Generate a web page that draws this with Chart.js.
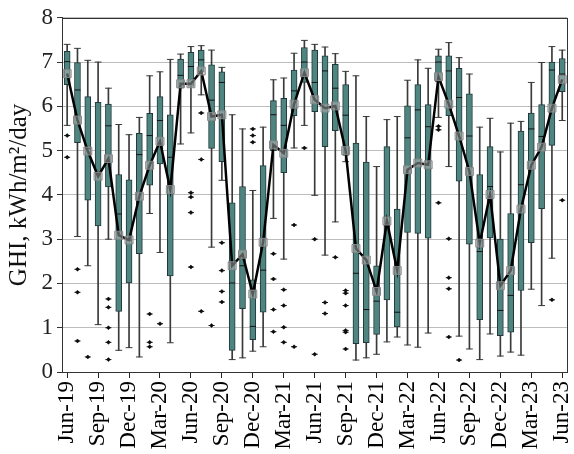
<!DOCTYPE html>
<html>
<head>
<meta charset="utf-8">
<script src="https://cdn.jsdelivr.net/npm/chart.js@4.4.1/dist/chart.umd.min.js"></script>
<style>
html,body{margin:0;padding:0;background:#fff;}
canvas{display:block;}
</style>
</head>
<body>
<canvas id="c" width="574" height="454"></canvas>
<script>
const months = ['Jun-19','Jul-19','Aug-19','Sep-19','Oct-19','Nov-19','Dec-19','Jan-20','Feb-20','Mar-20','Apr-20','May-20',
  'Jun-20','Jul-20','Aug-20','Sep-20','Oct-20','Nov-20','Dec-20','Jan-21','Feb-21','Mar-21','Apr-21','May-21',
  'Jun-21','Jul-21','Aug-21','Sep-21','Oct-21','Nov-21','Dec-21','Jan-22','Feb-22','Mar-22','Apr-22','May-22',
  'Jun-22','Jul-22','Aug-22','Sep-22','Oct-22','Nov-22','Dec-22','Jan-23','Feb-23','Mar-23','Apr-23','May-23','Jun-23'];

const whiskerLow  = [5.57,3.06,2.40,1.07,3.00,0.49,0.55,0.34,3.58,2.70,0.66,5.15,
  5.40,6.26,2.82,4.33,0.28,0.32,0.47,0.57,3.47,2.55,5.06,5.57,
  3.99,2.64,3.39,4.75,0.27,0.32,0.40,0.68,0.79,0.61,0.56,0.88,
  5.75,4.64,0.81,0.52,0.28,0.86,0.36,0.45,0.38,1.87,1.50,2.57,5.68];
const q1 = [6.49,5.18,3.88,3.30,4.18,1.37,2.01,2.67,4.22,4.70,2.17,6.41,
  6.45,6.77,5.05,4.75,0.49,1.43,0.73,1.35,5.00,4.50,5.79,6.54,
  5.88,5.09,5.45,4.89,0.64,0.66,0.85,1.63,1.02,3.15,3.13,3.02,
  6.55,5.79,4.31,2.89,1.18,3.03,0.82,0.90,1.84,2.92,3.69,5.12,6.33];
const medians = [7.01,6.37,5.05,4.50,5.56,3.57,2.98,4.91,5.34,5.68,4.85,6.70,
  6.90,7.05,6.14,6.54,2.01,2.40,1.03,2.30,5.81,5.57,6.35,7.00,
  6.54,6.80,6.41,5.80,2.23,1.41,1.60,3.30,1.35,5.29,5.92,5.54,
  7.00,6.80,6.20,5.33,2.72,4.19,1.39,1.73,4.23,5.49,5.32,6.82,6.73];
const q3 = [7.24,6.99,6.22,6.09,6.05,4.46,4.34,5.39,5.84,6.22,5.81,7.07,
  7.22,7.27,6.94,6.78,3.82,4.19,2.08,4.66,6.13,6.18,6.82,7.33,
  7.27,7.14,6.95,6.49,5.17,4.74,2.40,5.09,3.68,6.01,6.49,6.04,
  7.14,7.14,6.86,6.28,4.46,5.09,3.00,3.58,5.44,5.85,6.04,7.00,7.08];
const whiskerHigh = [7.40,7.31,7.04,7.00,6.41,5.59,5.36,5.75,6.69,6.78,7.06,7.18,
  7.35,7.37,7.27,6.88,5.81,5.49,4.10,5.53,6.60,6.64,7.20,7.49,
  7.40,7.34,7.19,6.79,6.69,5.77,4.64,5.70,5.77,6.59,7.05,6.86,
  7.29,7.44,7.10,6.73,5.53,5.73,4.97,5.62,5.66,6.54,6.99,7.35,7.27];
const means = [6.74,5.69,4.99,4.42,4.82,3.09,2.98,3.97,4.67,5.21,4.12,6.51,
  6.51,6.80,5.77,5.81,2.40,2.66,1.76,2.93,5.13,4.94,6.05,6.76,
  6.15,5.96,6.01,5.00,2.79,2.53,1.82,3.41,2.29,4.57,4.72,4.68,
  6.67,6.05,5.33,4.53,2.91,4.01,1.95,2.29,3.68,4.67,5.08,5.96,6.61];
const outliers = [[5.34,4.85],[2.32,1.80,0.70],[0.34],[],[1.65,1.46,1.00,0.67,0.28],[],[],[],[1.31,0.67,0.57],[1.09],[],[],
  [4.05,3.95,3.60,2.37],[5.85,4.80,1.37],[1.05],[2.92,2.29,1.82,1.58],[],[],[5.49,5.34,5.19],[],[2.67,2.10,1.41,0.91],[1.86,1.50,1.01,0.67],[3.32,0.57],[5.06],
  [3.00,0.40],[1.57,1.32],[2.59],[1.84,1.78,1.50,0.94,0.90,0.52],[],[],[],[],[],[],[],[],
  [5.55,5.47,3.82],[3.01,2.13,1.88,0.79],[0.27],[],[],[],[],[],[],[],[],[1.63],[3.88]];
const yTicks = [0,1,2,3,4,5,6,7,8];
const yTitle = 'GHI, kWh/m\u00B2/day';

const outlierPts = [];
outliers.forEach((arr, i) => arr.forEach(v => outlierPts.push({x: months[i], y: v})));

const FONT = "'Liberation Serif','Times New Roman',serif";

const framePlugin = {
  id: 'frame',
  afterDraw(chart) {
    const a = chart.chartArea, ctx = chart.ctx;
    ctx.save();
    ctx.strokeStyle = '#333';
    ctx.lineWidth = 1;
    ctx.strokeRect(Math.round(a.left) + 0.5, Math.round(a.top) + 0.5, Math.round(a.right - a.left), Math.round(a.bottom - a.top));
    ctx.restore();
  }
};

new Chart(document.getElementById('c'), {
  type: 'bar',
  data: {
    labels: months,
    datasets: [
      { type: 'bar', data: whiskerLow.map((l, i) => [l, whiskerHigh[i]]), backgroundColor: '#3a3a3a',
        barThickness: 1, grouped: false, order: 5 },
      { type: 'line', data: whiskerHigh, showLine: false, pointStyle: 'line', pointRadius: 3.4,
        pointBorderColor: '#3a3a3a', pointBorderWidth: 1, order: 4 },
      { type: 'line', data: whiskerLow, showLine: false, pointStyle: 'line', pointRadius: 3.4,
        pointBorderColor: '#3a3a3a', pointBorderWidth: 1, order: 4 },
      { type: 'bar', data: q1.map((v, i) => [v, q3[i]]), backgroundColor: '#4f8580', borderColor: '#22373a',
        borderWidth: 1, borderSkipped: false, barThickness: 6, grouped: false, order: 3 },
      { type: 'line', data: medians, showLine: false, pointStyle: 'line', pointRadius: 3,
        pointBorderColor: '#111', pointBorderWidth: 1, order: 2 },
      { type: 'line', data: means, borderColor: '#000', borderWidth: 2.5, tension: 0,
        pointStyle: 'rect', pointRadius: 5.6, pointBackgroundColor: 'rgba(195,195,195,0.45)',
        pointBorderColor: '#858585', pointBorderWidth: 1, order: 1 },
      { type: 'line', data: outlierPts, showLine: false, pointStyle: 'line', pointRadius: 3,
        pointBorderColor: '#111', pointBorderWidth: 1, order: 0 },
      { type: 'line', data: outlierPts, showLine: false, pointStyle: 'rectRot', pointRadius: 2,
        pointBackgroundColor: '#000', pointBorderColor: '#000', pointBorderWidth: 0.5, order: 0 }
    ]
  },
  options: {
    responsive: false,
    animation: false,
    devicePixelRatio: 1,
    layout: { padding: { top: 16, right: 4, left: 0, bottom: 0 } },
    plugins: { legend: { display: false }, tooltip: { enabled: false } },
    scales: {
      x: {
        offset: true,
        grid: { display: true, drawOnChartArea: false, offset: false, tickLength: 6,
          tickColor: (ctx) => (ctx.index % 3 === 0 ? '#222' : 'rgba(0,0,0,0)') },
        border: { display: true, color: '#333', width: 1 },
        ticks: {
          autoSkip: false, maxRotation: 90, minRotation: 90, padding: 3,
          color: '#000', font: { family: FONT, size: 23 },
          callback: function (v, i) { return i % 3 === 0 ? months[i] : ''; }
        },
        afterFit: (scale) => { scale.height = 82; scale.paddingLeft = 0; scale.paddingRight = 0; }
      },
      y: {
        min: 0, max: 8,
        grid: { color: (ctx) => (ctx.tick && ctx.tick.value % 1 === 0 ? '#bdbdbd' : 'rgba(0,0,0,0)'),
          lineWidth: 1, tickLength: 5, tickColor: '#333' },
        border: { display: true, color: '#333', width: 1 },
        ticks: {
          stepSize: 0.5, padding: 4, color: '#222', font: { family: FONT, size: 23 },
          callback: (v) => (yTicks.includes(v) ? String(v) : '')
        },
        title: { display: true, text: yTitle, color: '#111', font: { family: FONT, size: 25 },
          padding: { top: 4, bottom: 0 } },
        afterFit: (scale) => { scale.width = 62; }
      }
    }
  },
  plugins: [framePlugin]
});
</script>
</body>
</html>
